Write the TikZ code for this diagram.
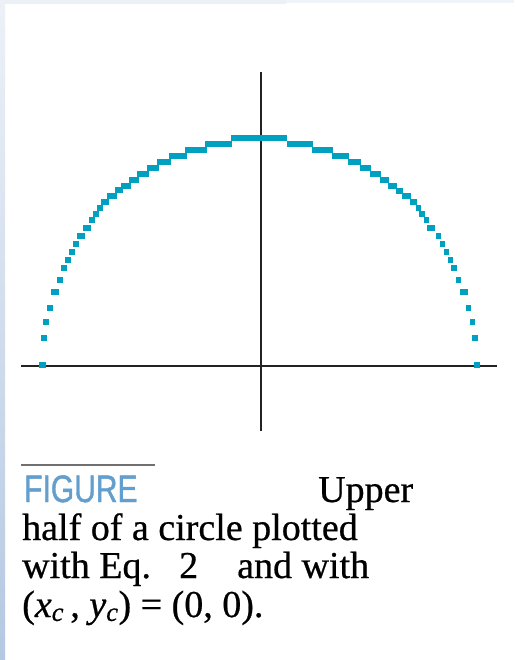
\documentclass[tikz,border=0pt]{standalone}
\usepackage{fontspec}
\usepackage{graphicx}
\setmainfont[FakeBold=0.6]{Liberation Serif}
\newfontfamily\capsans[FakeBold=1.2]{Liberation Sans}
\definecolor{dotc}{RGB}{0,160,192}
\definecolor{axisc}{RGB}{34,34,34}
\definecolor{figc}{RGB}{98,158,206}
\definecolor{rulec}{RGB}{112,112,112}
\definecolor{stripTop}{RGB}{237,241,247}
\definecolor{stripBot}{RGB}{180,200,226}
\definecolor{topstrip}{RGB}{236,241,247}
\definecolor{topstripB}{RGB}{240,244,248}
\begin{document}
\begin{tikzpicture}[x=1pt,y=-1pt,
  axis/.style={draw=axisc,line width=1.6pt},
  pix/.style={fill=dotc},
  captxt/.style={anchor=base west,inner sep=0pt,font=\fontsize{38}{38}\selectfont,text=black},
  figtxt/.style={anchor=base west,inner sep=0pt,font=\capsans\fontsize{37.5}{38}\selectfont,text=figc}]
\useasboundingbox (0,0) rectangle (514,660);
\fill[white] (0,0) rectangle (514,660);
\shade[top color=stripTop,bottom color=stripBot] (0,0) rectangle (5,660);
\fill[topstrip] (5,0) rectangle (286,4.5);
\fill[topstripB] (286,0) rectangle (514,3);
% axes
\coordinate (hl) at (21,366);
\coordinate (hr) at (497,366);
\coordinate (vt) at (261,72);
\coordinate (vb) at (261,431);
\draw[axis] (hl) -- (hr);
\draw[axis] (vt) -- (vb);
% plotted pixels of the upper half circle
\foreach \a/\b/\c/\d in {
 39/361.5/45.5/367.5, 41/335/47/341, 43/319/49/325, 47/305/53/311, 51/289/59/295,
 57/277/63/283, 61/265/67/271, 65/257/71/263, 69/249/75/255, 73/241/79/247,
 77/233/85/239, 83/225/91/231, 89/217/95/223, 93/211/99/217, 97/205/103/211,
 101/199/109/205, 107/193/117/199, 115/187/123/193, 121/183/131/189,
 129/177/139/183, 137/171/149/177, 147/165/159/171, 157/159/171/165,
 169/153/187/159, 185/147/207/153, 205/141/232/147, 231/135/287/141,
 287/141/313/147, 312/147/333/153, 332/153/349/159, 348/159/361/165,
 360/165/371/171, 370/171/381/177, 380/177/389/183, 388/183/397/189,
 396/188/403/194, 402/193/411/199, 410/199/417/205, 416/205/421/211,
 419/211/425/217, 424/217/429/223, 427/225/435/231, 436/233/441/239,
 440/241/445/247, 444/249/449/255, 448/257/453/263, 451/265/457/271,
 456/277/461/283, 460/289/468/295, 466/305/471/311, 470/319/475/325,
 472/335/478/341, 474/361.5/480/367.5}
 { \fill[pix] (\a,\b) rectangle (\c,\d); }
% caption
\coordinate (rl) at (21,465);
\coordinate (rr) at (155,465);
\draw[rulec,line width=2pt] (rl) -- (rr);
\node[figtxt] (fig) at (24,502) {\scalebox{0.8}[1.02]{FIGURE}};
\node[captxt] (upper) at (318,502) {Upper};
\node[captxt] (l2) at (22,540) {half of a circle plotted};
\node[captxt] (l3a) at (22,578) {with Eq.};
\node[captxt] (l3b) at (179,578) {2};
\node[captxt] (l3c) at (237,578) {and with};
\node[captxt] (l4) at (22,617) {(\textit{x}\textsubscript{\textit{c}}\,, \textit{y}\textsubscript{\textit{c}}) = (0, 0).};
\end{tikzpicture}
\end{document}
